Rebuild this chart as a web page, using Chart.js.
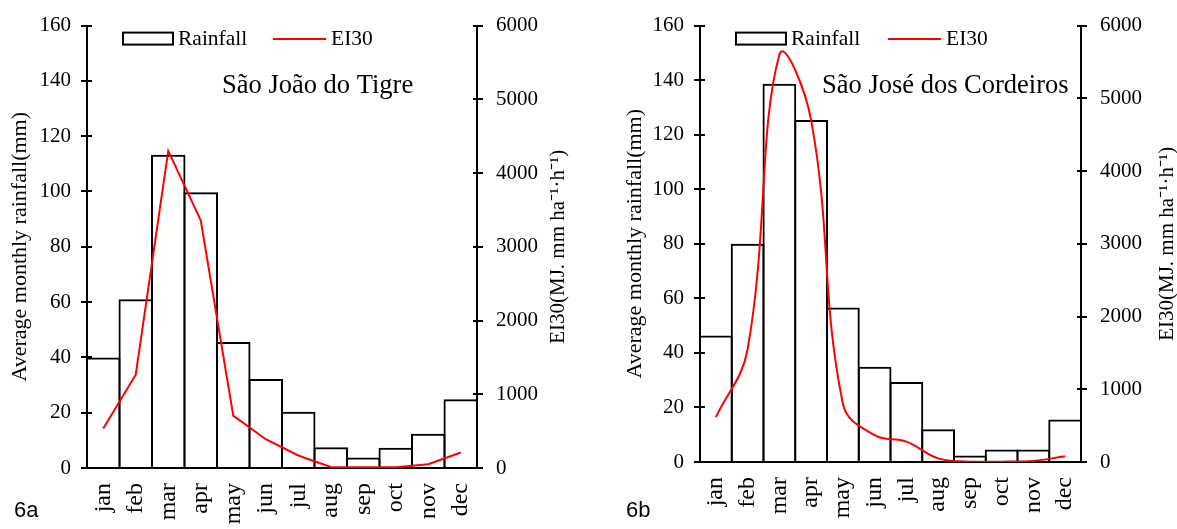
<!DOCTYPE html>
<html><head><meta charset="utf-8">
<script src="https://cdn.jsdelivr.net/npm/chart.js@4.4.1/dist/chart.umd.min.js"></script>
<style>
html,body{margin:0;padding:0;background:#fff;width:1177px;height:529px;overflow:hidden}
.box{position:absolute;top:0;height:529px}
#b1{left:0;width:588px}
#b2{left:588px;width:589px}
</style></head><body>
<div class="box" id="b1"><canvas id="c1"></canvas></div>
<div class="box" id="b2"><canvas id="c2"></canvas></div>
<script>
// ---- data ----
const months = ['jan','feb','mar','apr','may','jun','jul','aug','sep','oct','nov','dec'];
const rainfallA = [40, 61, 113.3, 99.7, 45.6, 32.2, 20.3, 7.5, 3.8, 7.3, 12.4, 24.9];
const ei30A     = [535, 1265, 4300, 3360, 710, 390, 170, 15, 10, 10, 50, 210];
const rainfallB = [46.4, 80, 138.7, 125.4, 56.6, 34.9, 29.3, 12, 2.4, 4.6, 4.6, 15.6];
const ei30B     = [615, 1550, 5600, 4700, 800, 370, 280, 50, 5, 5, 15, 80];
const rainTicks = [0, 20, 40, 60, 80, 100, 120, 140, 160];
const eiTicks   = [0, 1000, 2000, 3000, 4000, 5000, 6000];
const seriesNames = ['Rainfall', 'EI30'];
const siteA = 'São João do Tigre';
const siteB = 'São José dos Cordeiros';
const panelA = '6a', panelB = '6b';
const leftTitle = 'Average monthly rainfall(mm)';
const rightTitle = 'EI30(MJ. mm ha\u207B\u00B9\u00B7h\u207B\u00B9)';

const SERIF = '"Liberation Serif", "Times New Roman", serif';

const decor = {
  id: 'decor',
  afterDraw(chart, args, o) {
    const ctx = chart.ctx, ca = chart.chartArea;
    ctx.save();
    // inner tick marks
    ctx.strokeStyle = '#000'; ctx.lineWidth = 2;
    const y = chart.scales.y, y1 = chart.scales.y1;
    rainTicks.forEach(v => { const p = Math.round(y.getPixelForValue(v)); ctx.beginPath(); ctx.moveTo(ca.left, p); ctx.lineTo(ca.left + 5, p); ctx.stroke(); });
    eiTicks.forEach(v => { const p = Math.round(y1.getPixelForValue(v)); ctx.beginPath(); ctx.moveTo(ca.right, p); ctx.lineTo(ca.right - 4, p); ctx.stroke(); });
    // legend
    const ly = ca.top + 13;
    ctx.lineWidth = 2; ctx.strokeStyle = '#000';
    ctx.strokeRect(ca.left + 36, ly - 6, 50, 12);
    ctx.fillStyle = '#000'; ctx.font = '21.5px ' + SERIF;
    ctx.textAlign = 'left'; ctx.textBaseline = 'middle';
    ctx.fillText(seriesNames[0], ca.left + 91, ly + 1);
    ctx.strokeStyle = '#ff0000';
    ctx.beginPath(); ctx.moveTo(ca.left + o.lineX, ly + 0.5); ctx.lineTo(ca.left + o.lineX + 53, ly + 0.5); ctx.stroke();
    ctx.fillText(seriesNames[1], ca.left + o.lineX + 58, ly + 1);
    // site name
    ctx.font = '26.5px ' + SERIF;
    ctx.fillText(o.site, o.siteX, 86);
    // panel label
    ctx.font = '22px "Liberation Sans", Arial, sans-serif';
    ctx.fillText(o.panel, o.panelX, 511);
    // right axis title (reads bottom to top)
    ctx.font = '21px ' + SERIF;
    ctx.translate(o.titleX, (ca.top + ca.bottom) / 2);
    ctx.rotate(-Math.PI / 2);
    ctx.textAlign = 'center';
    ctx.fillText(rightTitle, 0, 0);
    ctx.restore();
  }
};

function makeChart(id, rain, ei, smooth, g) {
  return new Chart(document.getElementById(id), {
    type: 'bar',
    data: {
      labels: months,
      datasets: [
        { type: 'bar', label: seriesNames[0], data: rain, yAxisID: 'y', order: 2,
          backgroundColor: 'rgba(255,255,255,0)', borderColor: '#000', borderWidth: 2,
          borderSkipped: 'bottom', barPercentage: g.barPct, categoryPercentage: 1 },
        { type: 'line', label: seriesNames[1], data: ei, yAxisID: 'y1', order: 1,
          borderColor: '#ff0000', borderWidth: 2, pointRadius: 0, fill: false,
          tension: smooth ? 0.4 : 0 }
      ]
    },
    options: {
      responsive: true, maintainAspectRatio: false, animation: false,
      layout: { padding: { top: 16, left: 0, right: 0, bottom: 0 } },
      plugins: { legend: { display: false }, tooltip: { enabled: false }, decor: g.decor },
      scales: {
        x: {
          grid: { display: false, drawTicks: false },
          border: { display: true, color: '#000', width: 2 },
          ticks: { color: '#000', font: { family: SERIF, size: 24 }, minRotation: 90, maxRotation: 90, autoSkip: false, padding: 15 },
          afterFit: s => { s.height = g.xH; }
        },
        y: {
          position: 'left', min: 0, max: 160,
          afterBuildTicks: s => { s.ticks = rainTicks.map(v => ({ value: v })); },
          grid: { drawOnChartArea: false, drawTicks: true, tickLength: 6, color: '#000', lineWidth: 2 },
          border: { display: true, color: '#000', width: 2 },
          ticks: { color: '#000', font: { family: SERIF, size: 21 }, padding: 10, callback: v => String(v) },
          title: { display: true, text: leftTitle, color: '#000', font: { family: SERIF, size: 22 }, padding: { top: g.yTitlePad, bottom: 0 } },
          afterFit: s => { s.width = g.yW; }
        },
        y1: {
          position: 'right', min: 0, max: 6000,
          afterBuildTicks: s => { s.ticks = eiTicks.map(v => ({ value: v })); },
          grid: { drawOnChartArea: false, drawTicks: true, tickLength: 6, color: '#000', lineWidth: 2 },
          border: { display: true, color: '#000', width: 2 },
          ticks: { color: '#000', font: { family: SERIF, size: 21 }, padding: 13, callback: v => String(v) },
          afterFit: s => { s.width = g.y1W; }
        }
      }
    },
    plugins: [decor]
  });
}

makeChart('c1', rainfallA, ei30A, false, {
  barPct: 1 + 2 / 32.5, xH: 61, yW: 87, y1W: 111, yTitlePad: 7,
  decor: { lineX: 186, site: siteA, siteX: 222, panel: panelA, panelX: 14, titleX: 558 }
});
makeChart('c2', rainfallB, ei30B, true, {
  barPct: 1 + 2 / 31.75, xH: 67, yW: 112, y1W: 96, yTitlePad: 34,
  decor: { lineX: 188, site: siteB, siteX: 234, panel: panelB, panelX: 38, titleX: 579 }
});
</script>
</body></html>
